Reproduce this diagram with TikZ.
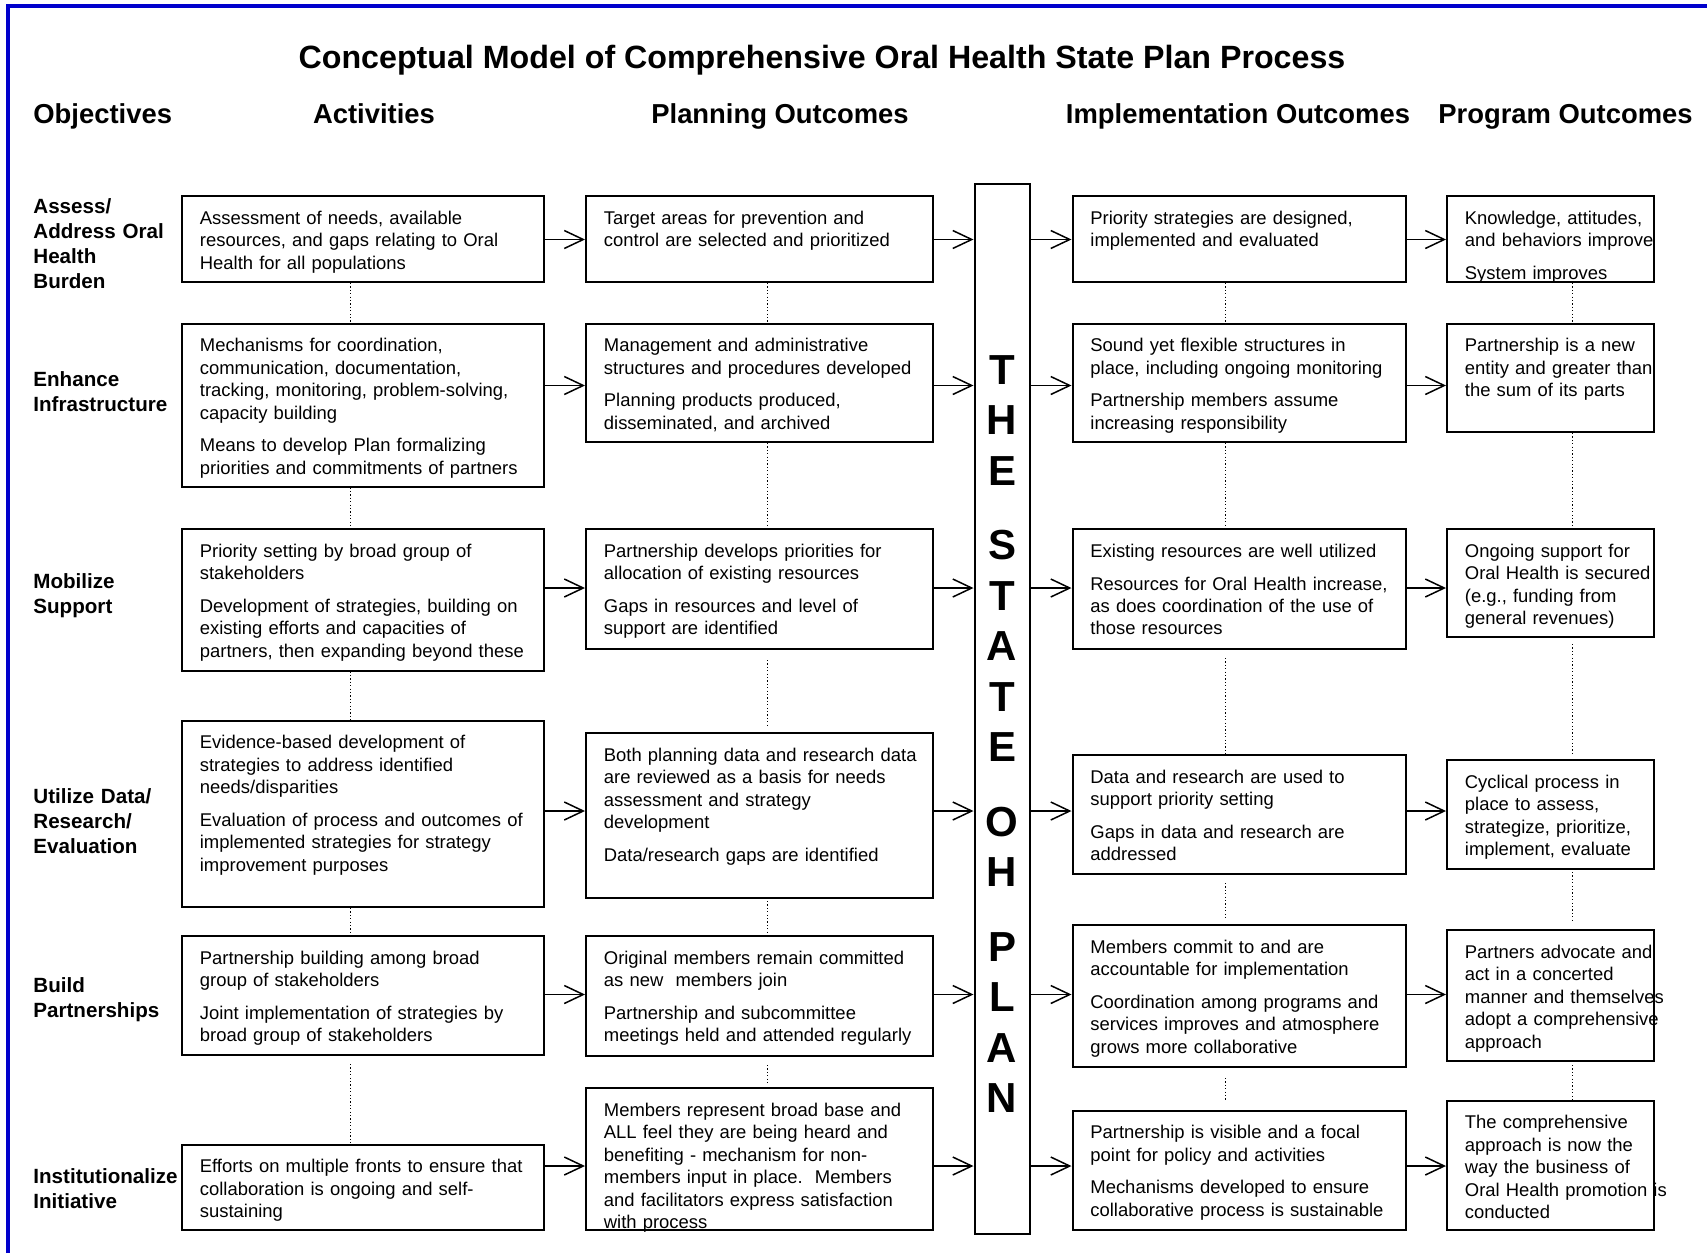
\documentclass[tikz,border=0pt]{standalone}
\usepackage{fontspec}
\setmainfont{Liberation Sans}
\usetikzlibrary{arrows.meta,calc,fit}
\definecolor{framecol}{RGB}{0,0,204}
\tikzset{
  boxsty/.style={draw=black, line width=1pt, inner sep=0pt},
  txt/.style={anchor=north west, inner sep=0pt, text width=175pt, align=left,
    font=\fontsize{9.22}{11.2}\selectfont, execute at begin node={\rule{0pt}{7pt}}},
  objsty/.style={anchor=north west, inner sep=0pt, text width=85pt, align=left,
    font=\bfseries\fontsize{10.3}{12.5}\selectfont, execute at begin node={\rule{0pt}{8pt}}},
  hdr/.style={anchor=base, inner sep=0pt, font=\bfseries\fontsize{13.7}{16}\selectfont},
  ttl/.style={anchor=base, inner sep=0pt, font=\bfseries\fontsize{16.1}{19}\selectfont},
  arr/.style={line width=0.75pt, -{Straight Barb[length=9.5pt,width=9pt,line width=0.75pt]}},
  dotline/.style={line width=0.5pt, dash pattern=on 0.6pt off 1.1pt},
  planbar/.style={draw=black, line width=1pt, inner sep=0pt},
}
\newcommand\pg{\\[5.1pt]}
\newcommand\flowbox[6]{%
  \coordinate (#1nw) at (#2,#3);
  \coordinate (#1se) at (#4,#5);
  \node[boxsty, fit=(#1nw)(#1se)] (#1) {};
  \node[txt] (#1t) at ($(#1.north west)+(18.5,15)$) {#6};
}
\newcommand\dotlink[5]{%
  \draw[dotline] ($(#1.south -| #3)+(0,#4)$) -- ($(#2.north -| #3)+(0,-#5)$);
}
\newcommand\rowarrows[2]{%
  \draw[arr] (a#1.east |- #2) -- (p#1.west |- #2);
  \draw[arr] (p#1.east |- #2) -- (bar.west |- #2);
  \draw[arr] (bar.east |- #2) -- (i#1.west |- #2);
  \draw[arr] (i#1.east |- #2) -- (g#1.west |- #2);
}
\begin{document}
\begin{tikzpicture}[x=0.5pt,y=-0.5pt]
\useasboundingbox (0,0) rectangle (1707,1253);
% frame
\draw[framecol, line width=2pt] (7.5,1253) -- (7.5,5.5) -- (1707,5.5);

% title and headers
\node[ttl] (title) at (822,68) {Conceptual Model of Comprehensive Oral Health State Plan Process};
\node[hdr, anchor=base west] (hobj) at (33,123.5) {Objectives};
\node[hdr] (hact) at (374,123.5) {Activities};
\node[hdr] (hplan) at (780,123.5) {Planning Outcomes};
\node[hdr] (himp) at (1238,123.5) {Implementation Outcomes};
\node[hdr] (hprog) at (1565.5,123.5) {Program Outcomes};

% objectives
\node[objsty] (o1) at (33,197) {Assess/\\Address Oral\\Health\\Burden};
\node[objsty] (o2) at (33,370) {Enhance\\Infrastructure};
\node[objsty] (o3) at (33,572.5) {Mobilize\\Support};
\node[objsty] (o4) at (33,787) {Utilize Data/\\Research/\\Evaluation};
\node[objsty] (o5) at (33,976.5) {Build\\Partnerships};
\node[objsty] (o6) at (33,1167) {Institutionalize\\Initiative};

% plan bar
\coordinate (barnw) at (974.5,184);
\coordinate (barse) at (1030,1233.5);
\node[planbar, fit=(barnw)(barse)] (bar) {};
\node[anchor=north, inner sep=0pt, text width=40pt, align=center,
  font=\bfseries\fontsize{21}{25.25}\selectfont] (plantext) at (1002,355)
  {T\\H\\E\\[12pt]S\\T\\A\\T\\E\\[12pt]O\\H\\[12pt]P\\L\\A\\N};

% Row 1
\flowbox{a1}{182}{196}{544}{282}{Assessment of needs, available\\resources, and gaps relating to Oral\\Health for all populations}
\flowbox{p1}{586}{196}{933}{282}{Target areas for prevention and\\control are selected and prioritized}
\flowbox{i1}{1072.5}{196}{1405.5}{282}{Priority strategies are designed,\\implemented and evaluated}
\flowbox{g1}{1447}{196}{1654}{282}{Knowledge, attitudes,\\and behaviors improve\pg System improves}

% Row 2
\flowbox{a2}{182}{323.5}{544}{486.5}{Mechanisms for coordination,\\communication, documentation,\\tracking, monitoring, problem-solving,\\capacity building\pg Means to develop Plan formalizing\\priorities and commitments of partners}
\flowbox{p2}{586}{323.5}{933}{442}{Management and administrative\\structures and procedures developed\pg Planning products produced,\\disseminated, and archived}
\flowbox{i2}{1072.5}{323.5}{1405.5}{442}{Sound yet flexible structures in\\place, including ongoing monitoring\pg Partnership members assume\\increasing responsibility}
\flowbox{g2}{1447}{323.5}{1654}{432}{Partnership is a new\\entity and greater than\\the sum of its parts}

% Row 3
\flowbox{a3}{182}{529}{544}{670.5}{Priority setting by broad group of\\stakeholders\pg Development of strategies, building on\\existing efforts and capacities of\\partners, then expanding beyond these}
\flowbox{p3}{586}{529}{933}{649}{Partnership develops priorities for\\allocation of existing resources\pg Gaps in resources and level of\\support are identified}
\flowbox{i3}{1072.5}{529}{1405.5}{649}{Existing resources are well utilized\pg Resources for Oral Health increase,\\as does coordination of the use of\\those resources}
\flowbox{g3}{1447}{529}{1654}{637}{Ongoing support for\\Oral Health is secured\\(e.g., funding from\\general revenues)}

% Row 4
\flowbox{a4}{182}{720.5}{544}{907}{Evidence-based development of\\strategies to address identified\\needs/disparities\pg Evaluation of process and outcomes of\\implemented strategies for strategy\\improvement purposes}
\flowbox{p4}{586}{733}{933}{897.5}{Both planning data and research data\\are reviewed as a basis for needs\\assessment and strategy\\development\pg Data/research gaps are identified}
\flowbox{i4}{1072.5}{755}{1405.5}{874}{Data and research are used to\\support priority setting\pg Gaps in data and research are\\addressed}
\flowbox{g4}{1447}{760}{1654}{868.5}{Cyclical process in\\place to assess,\\strategize, prioritize,\\implement, evaluate}

% Row 5
\flowbox{a5}{182}{936}{544}{1055}{Partnership building among broad\\group of stakeholders\pg Joint implementation of strategies by\\broad group of stakeholders}
\flowbox{p5}{586}{936}{933}{1055.5}{Original members remain committed\\as new~~members join\pg Partnership and subcommittee\\meetings held and attended regularly}
\flowbox{i5}{1072.5}{925}{1405.5}{1066.5}{Members commit to and are\\accountable for implementation\pg Coordination among programs and\\services improves and atmosphere\\grows more collaborative}
\flowbox{g5}{1447}{930}{1654}{1061}{Partners advocate and\\act in a concerted\\manner and themselves\\adopt a comprehensive\\approach}

% Row 6
\flowbox{a6}{182}{1144.5}{544}{1230}{Efforts on multiple fronts to ensure that\\collaboration is ongoing and self-\\sustaining}
\flowbox{p6}{586}{1088}{933}{1230}{Members represent broad base and\\ALL feel they are being heard and\\benefiting - mechanism for non-\\members input in place.~~Members\\and facilitators express satisfaction\\with process}
\flowbox{i6}{1072.5}{1110.5}{1405.5}{1230}{Partnership is visible and a focal\\point for policy and activities\pg Mechanisms developed to ensure\\collaborative process is sustainable}
\flowbox{g6}{1447}{1100.5}{1654}{1230}{The comprehensive\\approach is now the\\way the business of\\Oral Health promotion is\\conducted}

% arrows
\coordinate (r1) at (0,239.5);
\coordinate (r2) at (0,385.5);
\coordinate (r3) at (0,588);
\coordinate (r4) at (0,811);
\coordinate (r5) at (0,994.5);
\coordinate (r6) at (0,1166);
\rowarrows{1}{r1}
\rowarrows{2}{r2}
\rowarrows{3}{r3}
\rowarrows{4}{r4}
\rowarrows{5}{r5}
\rowarrows{6}{r6}

% dotted links
\coordinate (xA) at (350,0);
\coordinate (xP) at (767,0);
\coordinate (xI) at (1225,0);
\coordinate (xG) at (1572,0);
\dotlink{a1}{a2}{xA}{0}{0}
\dotlink{a2}{a3}{xA}{0}{0}
\dotlink{a3}{a4}{xA}{0}{0}
\dotlink{a4}{a5}{xA}{0}{0}
\dotlink{a5}{a6}{xA}{8}{0}
\dotlink{p1}{p2}{xP}{0}{0}
\dotlink{p2}{p3}{xP}{0}{0}
\dotlink{p3}{p4}{xP}{10}{6}
\dotlink{p4}{p5}{xP}{2.5}{0}
\dotlink{p5}{p6}{xP}{8.5}{2}
\dotlink{i1}{i2}{xI}{0}{0}
\dotlink{i2}{i3}{xI}{0}{0}
\dotlink{i3}{i4}{xI}{8}{0}
\dotlink{i4}{i5}{xI}{8}{4}
\dotlink{i5}{i6}{xI}{10.5}{8.5}
\dotlink{g1}{g2}{xG}{0}{0}
\dotlink{g2}{g3}{xG}{0}{0}
\dotlink{g3}{g4}{xG}{6}{5}
\dotlink{g4}{g5}{xG}{2.5}{9}
\dotlink{g5}{g6}{xG}{3}{0}
\end{tikzpicture}
\end{document}
